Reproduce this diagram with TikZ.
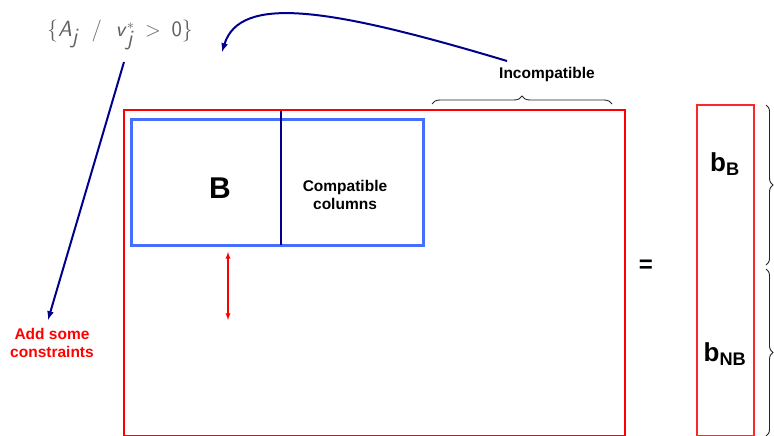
\documentclass[tikz,border=0pt]{standalone}
\usepackage{fontspec}
\setmainfont{Liberation Sans}
\usetikzlibrary{decorations.pathreplacing}
\definecolor{darkblue}{RGB}{0,0,140}
\definecolor{lightblue}{RGB}{70,110,255}
\tikzset{
  lbl/.style={font=\bfseries\fontsize{15.5}{18}\selectfont, align=center},
  accolade/.style={decorate, decoration={brace, amplitude=7pt}, gray!30!black, line width=0.9pt}
}
\begin{document}
\begin{tikzpicture}[x=1pt, y=-1pt]
  \useasboundingbox (0,0) rectangle (774,436);

  % Matrix A en B
  \coordinate (Atl) at (124,110);
  \coordinate (Abr) at (625,436);
  \draw[red, line width=2.8pt] (Atl) rectangle (Abr);
  \coordinate (Btl) at (131,119);
  \coordinate (Bbr) at (423,245);
  \draw[lightblue, line width=3pt] (Btl) rectangle (Bbr);
  \coordinate (S1) at (281,111);
  \coordinate (S2) at (281,245);
  \draw[darkblue, line width=1.8pt] (S1) -- (S2);

  % Teksten in de matrix
  \node[font=\bfseries\fontsize{30}{32}\selectfont] (B) at (220,188) {B};
  \node[lbl] (comp) at (345,195) {Compatible\\columns};

  % Dubbele pijl
  \coordinate (P1) at (228,252);
  \coordinate (P2) at (228,320);
  \draw[red, <->, >=latex, line width=1.3pt] (P1) -- (P2);

  % Rechterlid
  \node[font=\bfseries\fontsize{24}{28}\selectfont] (eq) at (646,266) {=};
  \coordinate (btl) at (697,105);
  \coordinate (bbr) at (754,436);
  \draw[red!85!white, line width=1.4pt] (btl) rectangle (bbr);
  \node[font=\bfseries\fontsize{26}{28}\selectfont] (bB) at (725,164) {b$_{\mathbf{B}}$};
  \node[font=\bfseries\fontsize{26}{28}\selectfont] (bNB) at (725,354) {b$_{\mathbf{NB}}$};

  % Accolades
  \coordinate (R1) at (766,105);
  \coordinate (R2) at (766,265);
  \coordinate (R3) at (766,269);
  \coordinate (R4) at (766,436);
  \draw[accolade] (R1) -- (R2);
  \draw[accolade] (R3) -- (R4);
  \coordinate (I1) at (432,104);
  \coordinate (I2) at (612,104);
  \draw[accolade, decoration={amplitude=8pt}] (I1) -- (I2);
  \node[lbl] (incomp) at (547,74) {Incompatible};

  % Verzameling en pijlen
  \node[gray!75!black, font=\sffamily\fontsize{22}{26}\selectfont] (set) at (120,35)
    {\{\textit{A}$_{\textit{j}}$ \ / \ \textit{v}$_{\textit{j}}^{*}$ \,$>$\, 0\}};
  \node[lbl, red] (add) at (52,343) {Add some\\constraints};
  \coordinate (C1) at (124,62);
  \coordinate (C2) at (48,320);
  \draw[->, >=latex, darkblue, line width=2pt] (C1) -- (C2);
  \coordinate (D1) at (507,61);
  \coordinate (D2) at (222,52);
  \draw[->, >=latex, darkblue, line width=2pt] (D1) .. controls (330,8) and (240,-6) .. (D2);
\end{tikzpicture}
\end{document}
